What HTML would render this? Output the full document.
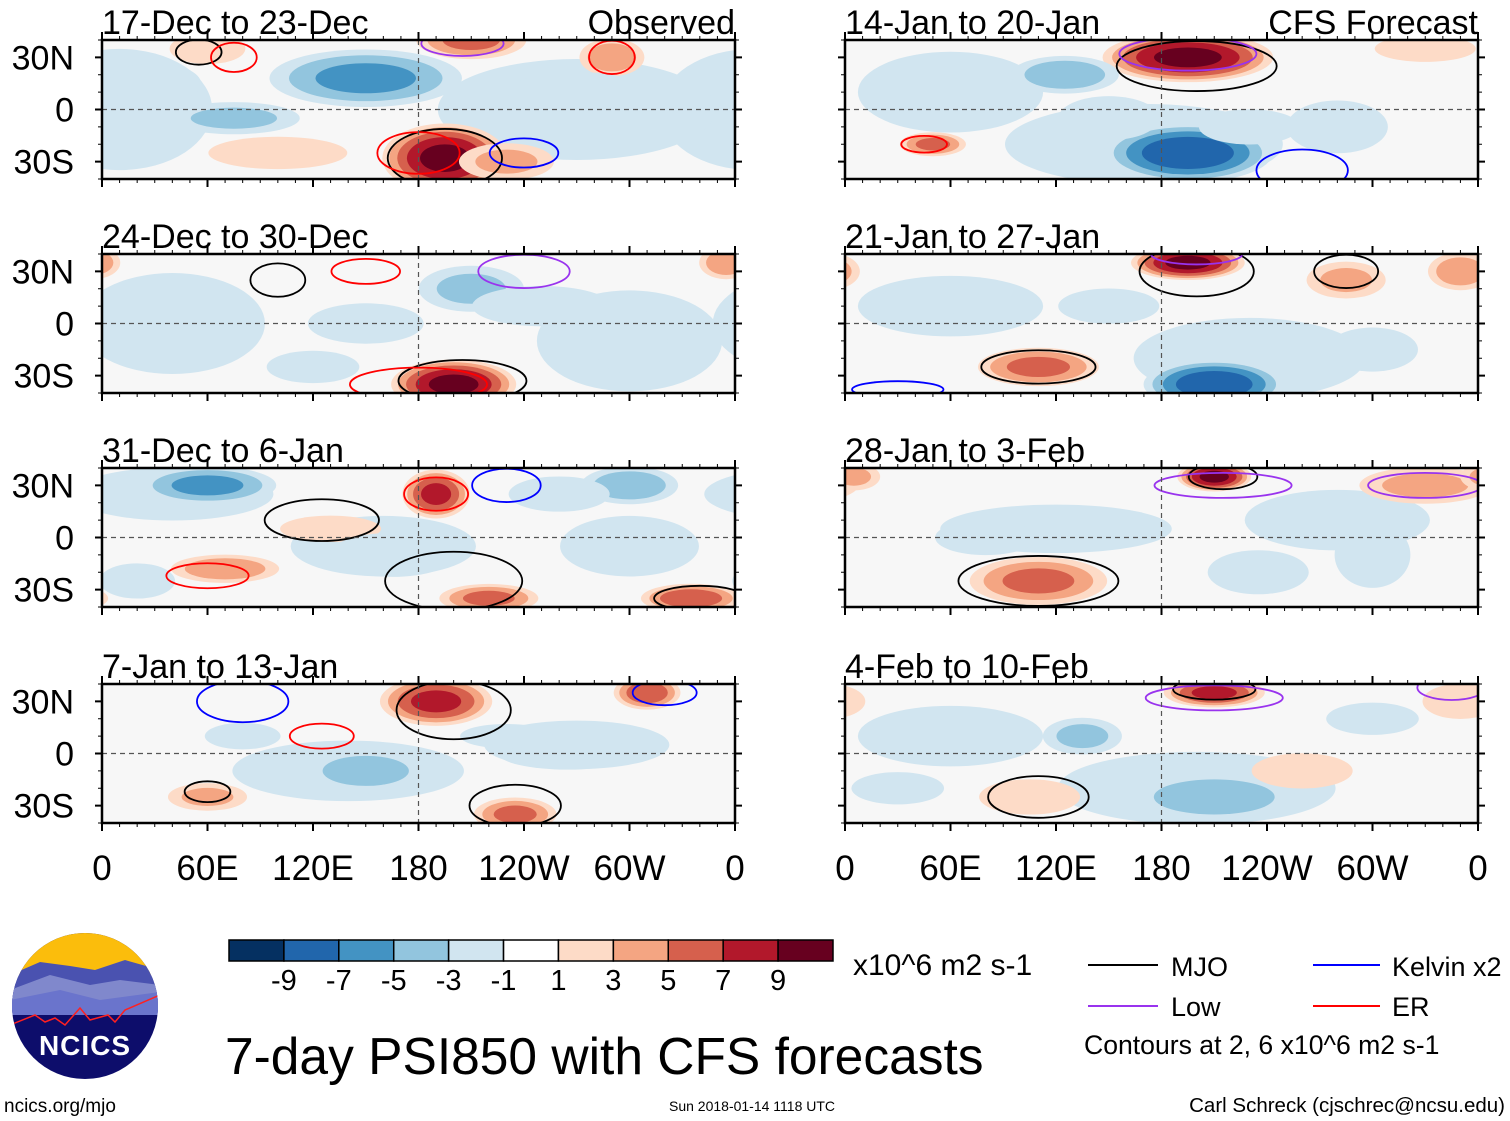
<!DOCTYPE html>
<html><head><meta charset="utf-8"><style>
body{margin:0;background:#fff;width:1510px;height:1121px;overflow:hidden;font-family:"Liberation Sans",sans-serif}
svg{display:block}
</style></head><body>
<svg id="s" width="1510" height="1121" viewBox="0 0 1510 1121">
<defs>
<clipPath id="logoclip"><circle cx="85" cy="1006" r="73"/></clipPath>
</defs>
<g id="panels"></g>
<g id="cbar"></g>
<text x="853" y="975" font-size="30">x10^6 m2 s-1</text>
<g>
<g><line x1="1088" y1="965" x2="1158" y2="965" stroke="#000" stroke-width="2"/><text x="1171" y="976" font-size="27">MJO</text></g>
<g><line x1="1313" y1="965" x2="1380" y2="965" stroke="#0000ff" stroke-width="2"/><text x="1392" y="976" font-size="27">Kelvin x2</text></g>
<g><line x1="1088" y1="1006" x2="1158" y2="1006" stroke="#9933ee" stroke-width="2"/><text x="1171" y="1016" font-size="27">Low</text></g>
<g><line x1="1313" y1="1006" x2="1380" y2="1006" stroke="#ff0000" stroke-width="2"/><text x="1392" y="1016" font-size="27">ER</text></g>
<text x="1084" y="1054" font-size="26.6">Contours at 2, 6 x10^6 m2 s-1</text>
</g>
<text x="225" y="1074" font-size="51.5">7-day PSI850 with CFS forecasts</text>
<text x="4" y="1112" font-size="19">ncics.org/mjo</text>
<text x="669" y="1111" font-size="14">Sun 2018-01-14 1118 UTC</text>
<text x="1505" y="1112" font-size="20.5" text-anchor="end">Carl Schreck (cjschrec@ncsu.edu)</text>
<g clip-path="url(#logoclip)">
<rect x="10" y="930" width="150" height="152" fill="#0d0d6b"/>
<rect x="10" y="930" width="150" height="45" fill="#fbbd0c"/>
<path d="M10 975 L40 962 L70 966 L95 970 L125 960 L160 970 L160 1000 L10 1000Z" fill="#4a52b0"/>
<path d="M10 990 L50 975 L90 985 L120 980 L160 985 L160 1010 L10 1010Z" fill="#8088cc"/>
<path d="M10 1000 L60 990 L100 1000 L160 992 L160 1015 L10 1015Z" fill="#6a74cc"/>
<path d="M10 1025 L35 1015 L45 1022 L55 1018 L65 1025 L80 1008 L90 1020 L108 1015 L115 1022 L125 1010 L160 995" fill="none" stroke="#ff2020" stroke-width="1.5"/>
<text x="85" y="1055" font-size="28" font-weight="bold" fill="#fff" text-anchor="middle" letter-spacing="1">NCICS</text>
</g>
</svg>
<script>
const NS='http://www.w3.org/2000/svg';
const svg=document.getElementById('s');
function mk(t,a,p){const e=document.createElementNS(NS,t);for(const k in a)e.setAttribute(k,a[k]);(p||svg).appendChild(e);return e;}

const cbColors=['#053061','#2166ac','#4393c3','#92c5de','#d1e5f0','#ffffff','#fddbc7','#f4a582','#d6604d','#b2182b','#67001f'];
const cbLabels=['-9','-7','-5','-3','-1','1','3','5','7','9'];

const panelTitles=['17-Dec to 23-Dec','24-Dec to 30-Dec','31-Dec to 6-Jan','7-Jan to 13-Jan','14-Jan to 20-Jan','21-Jan to 27-Jan','28-Jan to 3-Feb','4-Feb to 10-Feb'];
const lonTicks=['0','60E','120E','180','120W','60W','0'];
const latTicks=['30N','0','30S'];
// anomaly blobs per panel: [lon(0-360), lat, amplitude, lonRadius, latRadius]
const blobs0=[[10,0,-2,40,30],[270,0,-2,60,25],[150,18,-6,35,12],[195,-28,10,22,14],[210,40,6,20,8],[75,-5,-4,25,7],[290,30,5,12,8],[230,-30,4,18,8],[60,35,3,15,7],[30,15,-2,20,10],[270,10,-2,30,10],[100,-25,2,30,8]];
const blobs1=[[40,0,-2,40,25],[300,-10,-2,40,25],[200,-35,10,22,10],[210,20,-4,20,10],[355,35,5,10,7],[300,-10,-3,15,15],[150,0,-2,25,10],[120,-25,-2,20,8],[250,10,-2,30,10]];
const blobs2=[[40,25,-3,40,12],[160,-5,-2,40,15],[60,30,-6,25,8],[190,25,8,12,10],[220,-35,6,18,6],[335,-35,7,18,6],[70,-18,5,20,6],[130,5,3,20,6],[300,30,-5,18,8],[20,-25,-3,15,8],[165,-10,-3,25,10],[260,25,-3,20,8],[300,-5,-2,30,15]];
const blobs3=[[140,-10,-2,50,15],[270,5,-2,40,12],[190,30,8,20,10],[310,35,7,12,7],[235,-35,6,15,7],[150,-10,-4,25,10],[60,-25,4,15,6],[80,10,-3,15,6],[265,0,-2,30,8],[230,10,-2,20,6]];
const blobs4=[[170,-20,-2,60,20],[60,10,-2,40,20],[195,30,10,30,10],[195,-25,-9,30,12],[50,-20,6,12,5],[125,20,-5,20,8],[330,35,3,20,6],[280,-10,-3,20,12],[150,-5,-3,20,10],[230,-10,-3,20,8]];
const blobs5=[[230,-20,-2,50,20],[60,10,-2,40,15],[195,35,10,20,7],[210,-35,-9,25,10],[110,-25,6,22,8],[285,25,4,15,8],[150,10,-3,20,8],[50,15,-3,20,8],[350,30,5,12,8],[300,-15,-3,18,10]];
const blobs6=[[120,5,-2,50,12],[280,10,-2,40,15],[210,35,10,13,6],[110,-25,6,25,10],[330,30,4,25,8],[80,0,-3,20,8],[235,-20,-3,20,10],[300,-10,-3,15,15],[5,35,4,10,6]];
const blobs7=[[200,-20,-2,60,18],[60,10,-2,40,15],[210,35,8,18,6],[105,-25,3,20,8],[210,-25,-5,30,10],[135,10,-4,15,8],[260,-10,3,20,8],[300,20,-2,20,8],[30,-20,-2,20,8],[350,30,3,15,8]];
const allBlobs=[blobs0,blobs1,blobs2,blobs3,blobs4,blobs5,blobs6,blobs7];
// contour outlines per panel: [lon, lat, lonRadius, latRadius, colorIndex]
const cont0=[[195,-28,25,14,0],[205,38,18,6,2],[55,33,10,6,0],[75,30,10,7,3],[290,30,10,8,3],[240,-25,15,7,1],[180,-25,18,10,3]];
const cont1=[[205,-33,28,10,0],[180,-35,30,8,3],[100,25,12,8,0],[240,30,20,8,2],[150,30,15,6,3]];
const cont2=[[125,10,25,10,0],[200,-25,30,14,0],[190,25,14,8,3],[340,-35,20,6,0],[60,-22,18,6,3],[230,30,15,8,1]];
const cont3=[[200,25,25,14,0],[60,-22,10,5,0],[235,-30,20,10,0],[125,10,14,6,3],[320,35,14,6,1],[80,30,20,10,1]];
const cont4=[[200,25,35,12,0],[195,32,30,8,2],[45,-20,10,4,3],[260,-35,20,10,1]];
const cont5=[[200,30,25,12,0],[200,40,20,5,2],[110,-25,25,8,0],[285,30,14,8,0],[30,-38,20,4,1]];
const cont6=[[215,35,15,6,0],[110,-25,35,12,0],[215,30,30,6,2],[330,30,25,6,2]];
const cont7=[[210,37,18,5,0],[110,-25,22,10,0],[210,32,30,6,2],[345,38,15,6,2]];
const allConts=[cont0,cont1,cont2,cont3,cont4,cont5,cont6,cont7];
const contColors=['#000','#0000ff','#9933ee','#ff0000'];

const colX=[102,845], rowY=[40,254,468,684], PW=633, PH=139;
const SX=1.7, SY=1.5;

function colorFor(v){
  if(v>=9) return cbColors[10]; if(v>=7) return cbColors[9]; if(v>=5) return cbColors[8];
  if(v>=3) return cbColors[7]; if(v>=1) return cbColors[6];
  if(v<=-9) return cbColors[0]; if(v<=-7) return cbColors[1]; if(v<=-5) return cbColors[2];
  if(v<=-3) return cbColors[3]; if(v<=-1) return cbColors[4]; return cbColors[5];
}

const panelsG=document.getElementById('panels');
const defs=mk('defs',{});
for(let p=0;p<8;p++){
  const c=p<4?0:1, r=p%4;
  const x0=colX[c], y0=rowY[r];
  const xs=lon=>x0+lon/360*PW;
  const ys=lat=>y0+PH/2-lat/40*(PH/2);
  const cp=mk('clipPath',{id:'cp'+p},defs);
  mk('rect',{x:x0,y:y0,width:PW,height:PH},cp);
  const g=mk('g',{},panelsG);
  
  
  const t=mk('text',{x:x0,y:y0-6,'font-size':34},g);
  t.textContent=panelTitles[p];
  
  
  if(p===0||p===4){
    const t2=mk('text',{x:x0+PW,y:y0-6,'font-size':34,'text-anchor':'end'},g);
    t2.textContent=p===0?'Observed':'CFS Forecast';
    
    
  }
  const inner=mk('g',{'clip-path':'url(#cp'+p+')'},g);
  mk('rect',{x:x0,y:y0,width:PW,height:PH,fill:'#f7f7f7'},inner);
  allBlobs[p].forEach(b=>{
    const [lon,lat,amp,rx,ry]=b;
    const A=Math.abs(amp), s=Math.sign(amp);
    for(const L of [1,3,5,7,9]){
      if(L>=A) break;
      const f=Math.sqrt(1-L/(A+0.5));
      for(const sh of [0,-360,360]){
        const e=mk('ellipse',{cx:xs(lon+sh),cy:ys(lat),rx:SX*rx*f/360*PW,ry:SY*ry*f/40*(PH/2),fill:colorFor(s*(L+0.5))},inner);
        
        
      }
    }
  });
  allConts[p].forEach(cn=>{
    const e=mk('ellipse',{cx:xs(cn[0]),cy:ys(cn[1]),rx:1.3*cn[2]/360*PW,ry:1.2*cn[3]/40*(PH/2),fill:'none',stroke:contColors[cn[4]],'stroke-width':1.8},inner);
    
    
  });
  mk('line',{x1:x0,x2:x0+PW,y1:ys(0),y2:ys(0),stroke:'#555','stroke-dasharray':'5,4','stroke-width':1.2},inner);
  mk('line',{x1:xs(180),x2:xs(180),y1:y0,y2:y0+PH,stroke:'#555','stroke-dasharray':'5,4','stroke-width':1.2},inner);
  mk('rect',{x:x0,y:y0,width:PW,height:PH,fill:'none',stroke:'#000','stroke-width':2.5},g);
  for(let lon=0;lon<=360;lon+=10){
    const major=lon%60===0;
    mk('line',{x1:xs(lon),x2:xs(lon),y1:y0+PH,y2:y0+PH+(major?8:4),stroke:'#000','stroke-width':major?2:1},g);
    mk('line',{x1:xs(lon),x2:xs(lon),y1:y0,y2:y0-(major?8:4),stroke:'#000','stroke-width':major?2:1},g);
  }
  for(let lat=-40;lat<=40;lat+=10){
    const major=lat%30===0;
    mk('line',{x1:x0,x2:x0-(major?7:4),y1:ys(lat),y2:ys(lat),stroke:'#000','stroke-width':major?2:1},g);
    mk('line',{x1:x0+PW,x2:x0+PW+(major?7:4),y1:ys(lat),y2:ys(lat),stroke:'#000','stroke-width':major?2:1},g);
  }
  if(c===0){
    [30,0,-30].forEach((lat,i)=>{
      const tl=mk('text',{x:74,y:ys(lat)+12,'font-size':34,'text-anchor':'end'},g);
      tl.textContent=latTicks[i];
      
      
    });
  }
  if(r===3){
    lonTicks.forEach((lb,i)=>{
      const tl=mk('text',{x:xs(i*60),y:880,'font-size':35,'text-anchor':'middle'},g);
      tl.textContent=lb;
      
      
    });
  }
}
const cb=document.getElementById('cbar');
const cbX=229, cbW=604, cbY=940, cbH=21, bw=cbW/cbColors.length;
cbColors.forEach((col,i)=>{
  const r=mk('rect',{x:cbX+i*bw,y:cbY,width:bw,height:cbH,fill:col,stroke:'#000','stroke-width':1.5},cb);
  
  
});
cbLabels.forEach((lb,i)=>{
  const t=mk('text',{x:cbX+(i+1)*bw,y:990,'font-size':29,'text-anchor':'middle'},cb);
  t.textContent=lb;
  
  
});
</script>
</body></html>
